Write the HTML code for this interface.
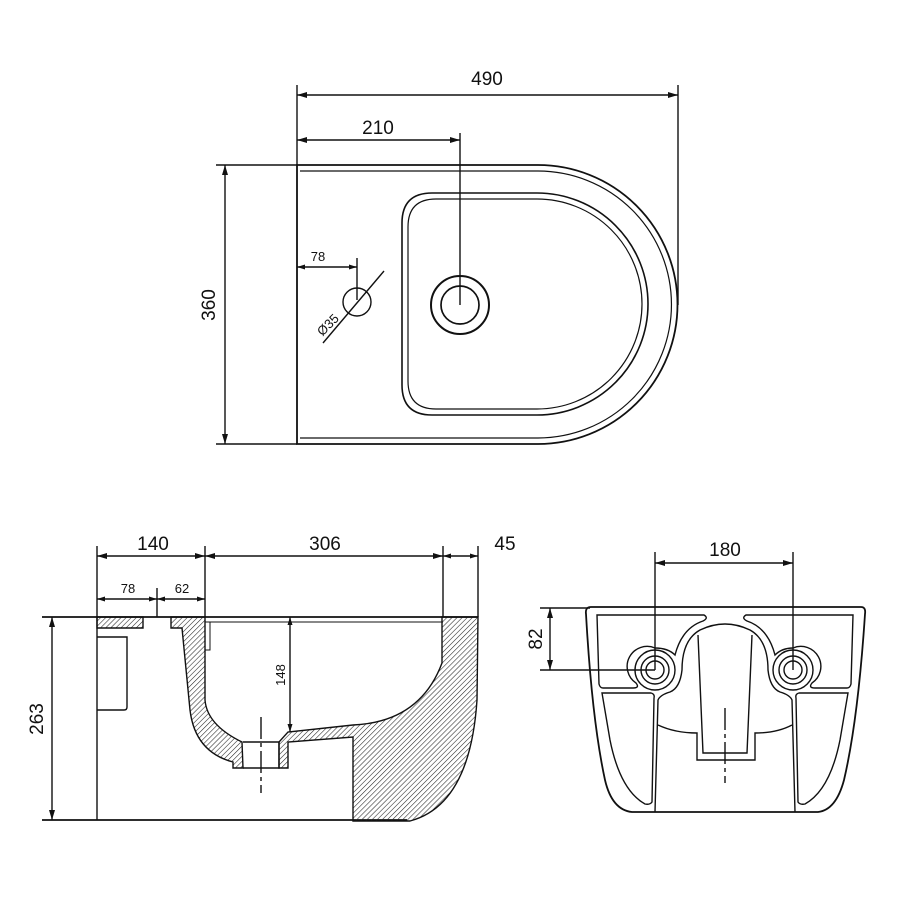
<!DOCTYPE html>
<html><head><meta charset="utf-8"><style>
html,body{margin:0;padding:0;background:#fff;}
svg{display:block;}
text{font-family:"Liberation Sans",sans-serif;fill:#111;}
</style></head><body>
<svg width="900" height="900" viewBox="0 0 900 900" xmlns="http://www.w3.org/2000/svg">
<defs>
<pattern id="h" patternUnits="userSpaceOnUse" width="3.6" height="3.6" patternTransform="rotate(45)">
<line x1="0" y1="0" x2="0" y2="3.6" stroke="#222" stroke-width="1.1"/>
</pattern>
<marker id="a" viewBox="0 0 10 6" refX="10" refY="3" markerWidth="10" markerHeight="6" orient="auto-start-reverse" markerUnits="userSpaceOnUse">
<path d="M0,0 L10,3 L0,6 z" fill="#111"/>
</marker>
<marker id="s" viewBox="0 0 8 5" refX="8" refY="2.5" markerWidth="8" markerHeight="5" orient="auto-start-reverse" markerUnits="userSpaceOnUse">
<path d="M0,0 L8,2.5 L0,5 z" fill="#111"/>
</marker>
</defs>
<g fill="none" stroke="#111" stroke-width="1.4">
<!-- TOP VIEW -->
<line x1="297" y1="85" x2="297" y2="165"/>
<line x1="678" y1="85" x2="678" y2="305"/>
<line x1="297" y1="95" x2="678" y2="95" marker-start="url(#a)" marker-end="url(#a)"/>
<line x1="460" y1="133" x2="460" y2="305"/>
<line x1="297" y1="140" x2="460" y2="140" marker-start="url(#a)" marker-end="url(#a)"/>
<line x1="216" y1="165" x2="297" y2="165"/>
<line x1="216" y1="444" x2="297" y2="444"/>
<line x1="225" y1="165" x2="225" y2="444" marker-start="url(#a)" marker-end="url(#a)"/>
<path d="M297,165 L538,165 A139.5,139.5 0 0 1 538,444 L297,444 Z" stroke-width="1.8"/>
<path d="M300,171 L538,171 A133.5,133.5 0 0 1 538,438 L300,438" stroke-width="1.2"/>
<path d="M432,193 L537,193 A111,111 0 0 1 537,415 L432,415 Q402,415 402,385 L402,223 Q402,193 432,193 Z" stroke-width="1.6"/>
<path d="M436,199 L537,199 A105,105 0 0 1 537,409 L436,409 Q408,409 408,381 L408,227 Q408,199 436,199 Z" stroke-width="1.2"/>
<circle cx="460" cy="305" r="29" stroke-width="2"/>
<circle cx="460" cy="305" r="19" stroke-width="1.7"/>
<line x1="357" y1="258" x2="357" y2="300"/>
<line x1="297" y1="267" x2="357" y2="267" marker-start="url(#s)" marker-end="url(#s)"/>
<circle cx="357" cy="302" r="14"/>
<line x1="323" y1="343" x2="384" y2="271"/>
<!-- SIDE VIEW -->
<line x1="97" y1="546" x2="97" y2="820"/>
<line x1="205" y1="546" x2="205" y2="617"/>
<line x1="443" y1="546" x2="443" y2="617"/>
<line x1="478" y1="546" x2="478" y2="617"/>
<line x1="97" y1="556" x2="205" y2="556" marker-start="url(#a)" marker-end="url(#a)"/>
<line x1="205" y1="556" x2="443" y2="556" marker-start="url(#a)" marker-end="url(#a)"/>
<line x1="443" y1="556" x2="478" y2="556" marker-start="url(#s)" marker-end="url(#s)"/>
<line x1="157" y1="588" x2="157" y2="617"/>
<line x1="97" y1="599" x2="157" y2="599" marker-start="url(#s)" marker-end="url(#s)"/>
<line x1="157" y1="599" x2="205" y2="599" marker-start="url(#s)" marker-end="url(#s)"/>
<line x1="42" y1="617" x2="478" y2="617" stroke-width="1.7"/>
<line x1="205" y1="622" x2="443" y2="622" stroke-width="1"/>
<line x1="42" y1="820" x2="407" y2="820" stroke-width="1.7"/>
<line x1="52" y1="617" x2="52" y2="820" marker-start="url(#a)" marker-end="url(#a)"/>
<line x1="290" y1="617" x2="290" y2="732" marker-start="url(#s)" marker-end="url(#s)"/>
<path d="M97,617 L143,617 L143,628 L97,628 Z" fill="url(#h)"/>
<path d="M97,637 L127,637 L127,707 Q127,710 124,710 L97,710"/>
<path d="M171,617 L205,617 L205,700 Q207,725 242,742 L243,768 L233,768 L233,762 Q195,752 190,710 L182,628 L171,628 Z" fill="url(#h)"/>
<path d="M205,622 L205,650 L210,650 L210,622" stroke-width="1"/>
<path d="M243,742 L279,742 L279,768 L243,768"/>
<path d="M279,768 L288,768 L288,742 L353,737 L353,821 L410,821 Q470,805 477,700 L478,617 L442,617 L442,663 Q420,722 353,725 L288,732 L279,742 Z" fill="url(#h)"/>
<line x1="261" y1="717" x2="261" y2="793" stroke-dasharray="22,4,4,4"/>
<!-- FRONT VIEW -->
<line x1="655" y1="552" x2="655" y2="670"/>
<line x1="793" y1="552" x2="793" y2="670"/>
<line x1="655" y1="563" x2="793" y2="563" marker-start="url(#a)" marker-end="url(#a)"/>
<line x1="540" y1="608" x2="590" y2="608"/>
<line x1="540" y1="670" x2="655" y2="670"/>
<line x1="550" y1="608" x2="550" y2="670" marker-start="url(#a)" marker-end="url(#a)"/>
<path d="M591,607 L861,607 Q866,607 865,614 Q858,720 844,780 Q836,810 818,812 L632,812 Q612,810 605,780 Q592,720 586,614 Q585,607 591,607 Z" stroke-width="1.8"/>
<path d="M597,615 L704,615 Q709,618 703,621 Q682,628 675,655 Q668,648 655,648 A20,20 0 0 0 636,683 Q640,688 633,688 L603,688 Q600,688 599,684 Z"/>
<path d="M853,615 L746,615 Q741,618 747,621 Q768,628 775,655 Q782,648 793,648 A20,20 0 0 1 812,683 Q808,688 815,688 L847,688 Q850,688 851,684 Z"/>
<path d="M602,693 L651,693 Q655,694 654,698 L652,802 Q650,805 645,804 Q620,790 610,740 Z"/>
<path d="M848,693 L799,693 Q795,694 796,698 L798,802 Q800,805 805,804 Q830,790 840,740 Z"/>
<circle cx="655" cy="670" r="20"/><circle cx="655" cy="670" r="14"/><circle cx="655" cy="670" r="9"/>
<circle cx="793" cy="670" r="20"/><circle cx="793" cy="670" r="14"/><circle cx="793" cy="670" r="9"/>
<path d="M655,812 L658,700 Q660,695 670,692 Q680,688 682,670 Q682,640 700,630 Q725,618 750,630 Q768,640 768,670 Q770,688 780,692 Q790,695 792,700 L795,812"/>
<path d="M658,725 Q675,733 697,733 L697,760 L755,760 L755,733 Q777,733 792,725"/>
<path d="M698,635 L703,753 L747,753 L752,635"/>
<line x1="725" y1="708" x2="725" y2="783" stroke-dasharray="22,4,4,4"/>
</g>
<g font-size="19">
<text x="487" y="85" text-anchor="middle">490</text>
<text x="378" y="134" text-anchor="middle">210</text>
<text x="318" y="261" text-anchor="middle" font-size="13">78</text>
<text transform="translate(215,305) rotate(-90)" text-anchor="middle">360</text>
<text transform="translate(331,328) rotate(-45)" text-anchor="middle" font-size="13">Ø35</text>
<text x="153" y="550" text-anchor="middle">140</text>
<text x="325" y="550" text-anchor="middle">306</text>
<text x="505" y="550" text-anchor="middle">45</text>
<text x="128" y="593" text-anchor="middle" font-size="13">78</text>
<text x="182" y="593" text-anchor="middle" font-size="13">62</text>
<text transform="translate(43,719) rotate(-90)" text-anchor="middle">263</text>
<text transform="translate(285,675) rotate(-90)" text-anchor="middle" font-size="13">148</text>
<text x="725" y="556" text-anchor="middle">180</text>
<text transform="translate(542,639) rotate(-90)" text-anchor="middle">82</text>
</g>
</svg>
</body></html>
